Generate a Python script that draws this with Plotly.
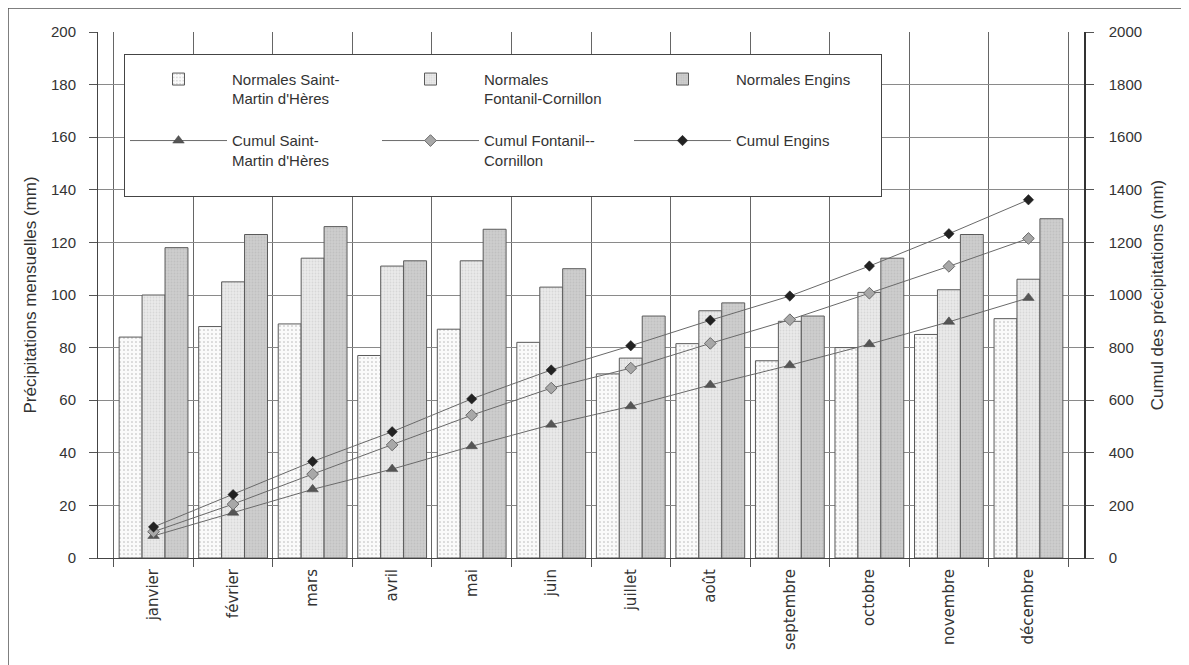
import plotly.graph_objects as go

months = ["janvier", "février", "mars", "avril", "mai", "juin", "juillet",
          "août", "septembre", "octobre", "novembre", "décembre"]

# Normales mensuelles (mm)
normales_smh = [84, 88, 89, 77, 87, 82, 70, 81.5, 75, 80, 85, 91]
normales_fontanil = [100, 105, 114, 111, 113, 103, 76, 94, 90, 101, 102, 106]
normales_engins = [118, 123, 126, 113, 125, 110, 92, 97, 92, 114, 123, 129]

# Cumuls (mm)
cumul_smh = [84, 172, 261, 338, 425, 507, 577, 658, 733, 813, 898, 989]
cumul_fontanil = [100, 205, 319, 430, 543, 646, 722, 816, 906, 1007, 1109, 1215]
cumul_engins = [118, 241, 367, 480, 605, 715, 807, 904, 996, 1110, 1233, 1362]

left_ticks = list(range(0, 201, 20))
right_ticks = list(range(0, 2001, 200))

# the page body has an 8px margin: the figure is drawn 8px right/down
OFF = 8
W, H = 1189 - OFF, 665 - OFF
L, T = 98 - OFF, 32 - OFF
pw, ph = 986, 526
R, B = W - L - pw, H - T - ph

fig = go.Figure()

bar_line = dict(color="#5a5a5a", width=1)
fig.add_trace(go.Bar(
    x=months, y=normales_smh, name="Normales Saint-<br>Martin d'Hères<br> ",
    marker=dict(color="#fafafa", line=bar_line,
                pattern=dict(shape=".", size=4, solidity=0.12,
                             fgcolor="#6a6a6a", bgcolor="#fafafa")),
))
fig.add_trace(go.Bar(
    x=months, y=normales_fontanil, name="Normales<br>Fontanil-Cornillon",
    marker=dict(color="#e8e8e8", line=bar_line,
                pattern=dict(shape=".", size=3, solidity=0.3,
                             fgcolor="#c4c4c4", bgcolor="#eaeaea")),
))
fig.add_trace(go.Bar(
    x=months, y=normales_engins, name="Normales Engins",
    marker=dict(color="#cccccc", line=bar_line,
                pattern=dict(shape=".", size=3, solidity=0.3,
                             fgcolor="#b4b4b4", bgcolor="#cdcdcd")),
))

fig.add_trace(go.Scatter(
    x=months, y=cumul_smh, name="Cumul Saint-<br>Martin d'Hères<br> ", yaxis="y2",
    mode="lines+markers", line=dict(color="#6a6a6a", width=1),
    marker=dict(symbol="triangle-up", size=10, color="#555555",
                line=dict(color="#444444", width=0.5)),
))
fig.add_trace(go.Scatter(
    x=months, y=cumul_fontanil, name="Cumul Fontanil--<br>Cornillon", yaxis="y2",
    mode="lines+markers", line=dict(color="#6a6a6a", width=1),
    marker=dict(symbol="diamond", size=9, color="#a8a8a8",
                line=dict(color="#6a6a6a", width=1)),
))
fig.add_trace(go.Scatter(
    x=months, y=cumul_engins, name="Cumul Engins", yaxis="y2",
    mode="lines+markers", line=dict(color="#6a6a6a", width=1),
    marker=dict(symbol="diamond", size=8, color="#222222",
                line=dict(color="#222222", width=0.5)),
))

fig.update_layout(
    width=W, height=H,
    margin=dict(l=L, r=R, t=T, b=B, pad=0, autoexpand=False),
    paper_bgcolor="white", plot_bgcolor="white",
    font=dict(family="Liberation Sans, Arial, sans-serif", size=15, color="#333333"),
    barmode="group", bargap=0.135, bargroupgap=0,
    showlegend=True,
    legend=dict(
        orientation="h", x=(124 - 98) / pw, y=1 - (54 - 32) / ph,
        xanchor="left", yanchor="top", valign="top",
        bgcolor="white", bordercolor="#444444", borderwidth=1,
        font=dict(size=15, color="#333333"),
        title=dict(text="\u00a0", font=dict(size=6), side="top"),
        entrywidth=140, itemwidth=97,
    ),
    xaxis=dict(
        type="category", tickson="boundaries", ticks="outside", ticklen=8,
        tickcolor="#555555", showgrid=True, gridcolor="#666666", gridwidth=1,
        showline=True, linecolor="#444444", linewidth=1, automargin=False,
        ticklabelstandoff=4,
        tickangle=-90, tickfont=dict(family="DejaVu Sans", size=15, color="#333333"),
    ),
    yaxis=dict(
        range=[0, 200], tickvals=left_ticks, ticks="outside", ticklen=8,
        tickcolor="#555555", showgrid=True, gridcolor="#8a8a8a", gridwidth=1,
        showline=True, linecolor="#444444", linewidth=1, zeroline=False,
        ticklabelstandoff=10, automargin=False,
        tickfont=dict(size=15),
        title=dict(text="Précipitations mensuelles (mm)", font=dict(size=17, color="#333333"),
                   standoff=10),
    ),
    yaxis2=dict(
        range=[0, 2000], tickvals=right_ticks, overlaying="y", side="right",
        ticks="outside", ticklen=8, tickcolor="#555555", showgrid=False,
        showline=True, linecolor="#333333", linewidth=1.5, zeroline=False,
        ticklabelstandoff=12, automargin=False,
        tickfont=dict(size=15),
        title=dict(text="Cumul des précipitations (mm)", font=dict(size=17, color="#333333"),
                   standoff=10),
    ),
)

# outer frame of the figure
fig.add_shape(type="rect", xref="paper", yref="paper",
              x0=(8 - 98) / pw, x1=(1200 - 98) / pw,
              y0=-(680 - 558) / ph, y1=1 + (32 - 8) / ph,
              line=dict(color="#555555", width=1.5), layer="below")

fig.write_html("out.html")
